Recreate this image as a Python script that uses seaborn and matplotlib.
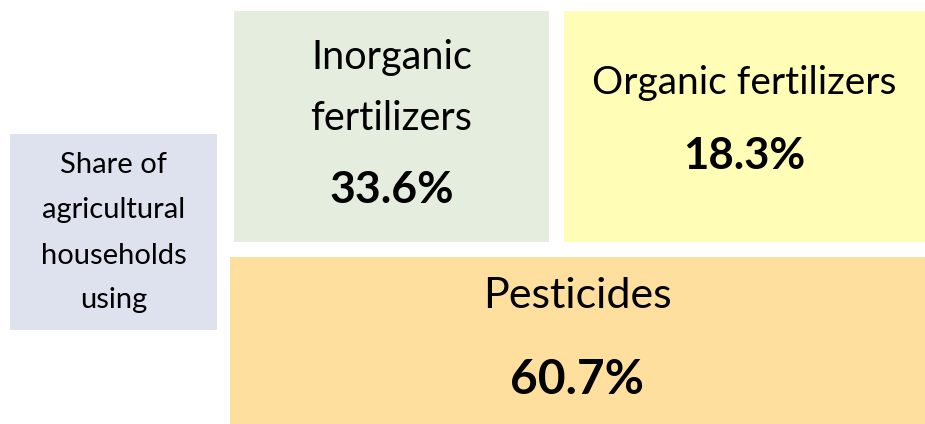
import matplotlib
matplotlib.use("Agg")
import matplotlib.pyplot as plt
import matplotlib.patches as patches
import seaborn as sns

# what the chart shows
intro_lines = ["Share of", "agricultural", "households", "using"]
categories = [["Inorganic", "fertilizers"], ["Organic fertilizers"], ["Pesticides"]]
shares = [33.6, 18.3, 60.7]

# box layout in pixels (x0, y0, x1, y1), y from the top
boxes = [(234, 11, 549, 242), (564, 11, 925, 242), (230, 257, 925, 424)]
box_colors = ["#E5EEDE", "#FFFDB6", "#FFDF9E"]
name_y = [[58, 118], [83], [296]]
value_y = [190, 156, 380]
name_size = [28.5, 28, 31]
value_size = [32, 31.5, 34.5]

sns.set_style("white")
plt.rcParams["font.family"] = ["Lato", "DejaVu Sans"]

fig = plt.figure(figsize=(9.25, 4.24), dpi=100)
ax = fig.add_axes([0, 0, 1, 1])
ax.set_xlim(0, 925)
ax.set_ylim(424, 0)
ax.axis("off")

# left label box
ax.add_patch(patches.Rectangle((10, 134), 207, 196, facecolor="#DEE2EF", edgecolor="none"))
for line, y in zip(intro_lines, [165, 210, 256, 300]):
    ax.text(113.5, y, line, ha="center", va="center", fontsize=21, color="black")

for (x0, y0, x1, y1), col, cat, val, ny, vy, ns, vs in zip(
        boxes, box_colors, categories, shares, name_y, value_y, name_size, value_size):
    ax.add_patch(patches.Rectangle((x0, y0), x1 - x0, y1 - y0, facecolor=col, edgecolor="none"))
    cx = (x0 + x1) / 2
    for line, y in zip(cat, ny):
        ax.text(cx, y, line, ha="center", va="center", fontsize=ns, color="black")
    ax.text(cx, vy, f"{val:.1f}%", ha="center", va="center", fontsize=vs,
            fontweight="bold", color="black")

fig.savefig("out.png", dpi=100)
